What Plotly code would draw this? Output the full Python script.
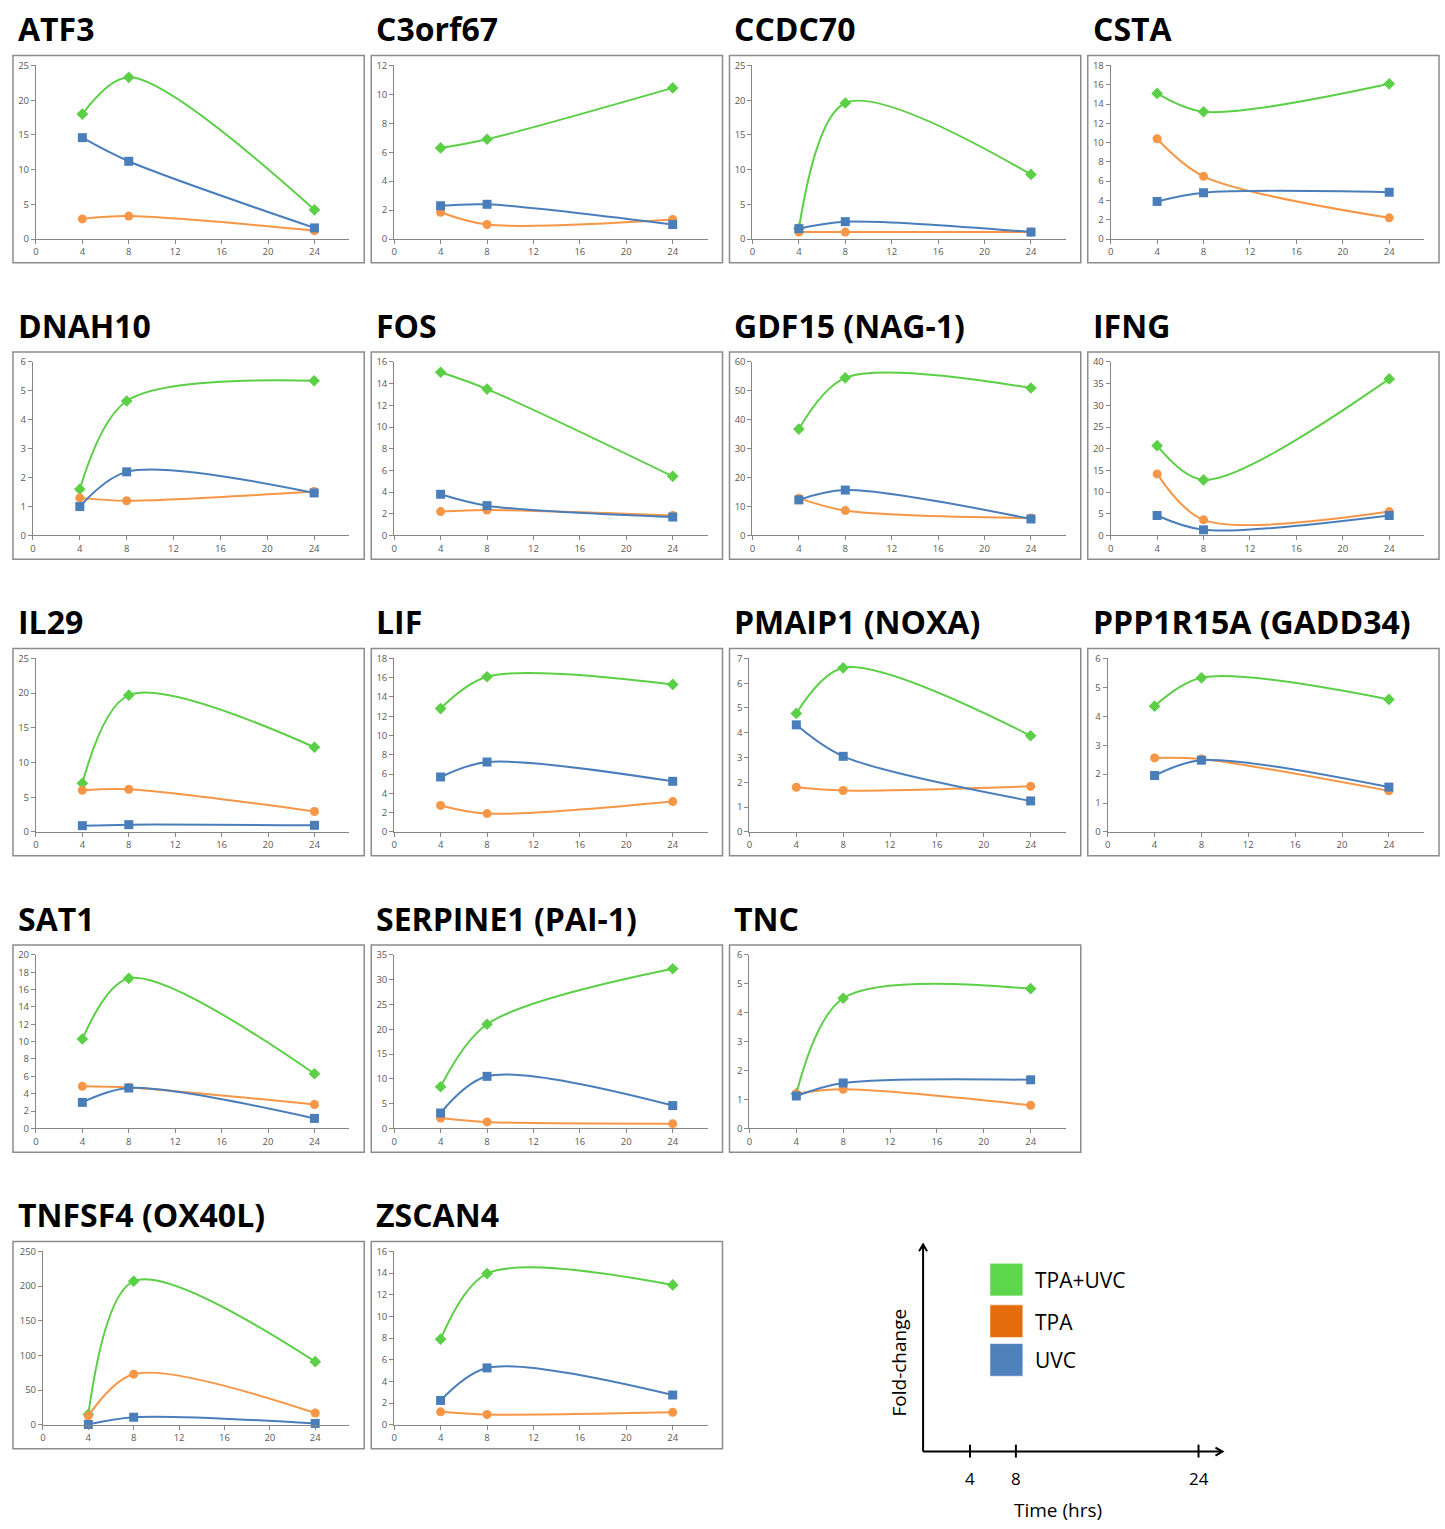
import plotly.graph_objects as go

W, H = 1445, 1529

hours = [4, 8, 24]
x_ticks = [0, 4, 8, 12, 16, 20, 24]

genes = ["ATF3", "C3orf67", "CCDC70", "CSTA",
         "DNAH10", "FOS", "GDF15 (NAG-1)", "IFNG",
         "IL29", "LIF", "PMAIP1 (NOXA)", "PPP1R15A (GADD34)",
         "SAT1", "SERPINE1 (PAI-1)", "TNC",
         "TNFSF4 (OX40L)", "ZSCAN4"]

y_max = [25, 12, 25, 18,
         6, 16, 60, 40,
         25, 18, 7, 6,
         20, 35, 6,
         250, 16]
y_step = [5, 2, 5, 2,
          1, 2, 10, 5,
          5, 2, 1, 1,
          2, 5, 1,
          50, 2]

tpa_uvc = [[18.0, 23.3, 4.2], [6.3, 6.9, 10.45], [1.5, 19.6, 9.3], [15.1, 13.2, 16.1],
           [1.6, 4.65, 5.35], [15.05, 13.5, 5.45], [36.8, 54.5, 51.0], [20.7, 12.8, 36.1],
           [7.0, 19.7, 12.2], [12.8, 16.1, 15.3], [4.78, 6.62, 3.88], [4.35, 5.33, 4.58],
           [10.3, 17.3, 6.3], [8.4, 21.0, 32.2], [1.2, 4.5, 4.83],
           [15.0, 207.0, 91.0], [7.9, 13.95, 12.9]]
tpa = [[2.9, 3.3, 1.2], [1.85, 1.0, 1.35], [1.0, 1.0, 1.0], [10.4, 6.5, 2.2],
       [1.3, 1.2, 1.52], [2.2, 2.35, 1.85], [12.9, 8.6, 6.0], [14.2, 3.6, 5.5],
       [6.0, 6.15, 2.95], [2.75, 1.9, 3.15], [1.8, 1.67, 1.84], [2.56, 2.52, 1.42],
       [4.85, 4.7, 2.75], [2.1, 1.3, 0.95], [1.2, 1.35, 0.8],
       [13.0, 73.0, 17.0], [1.2, 0.95, 1.15]]
uvc = [[14.6, 11.2, 1.6], [2.3, 2.4, 1.0], [1.5, 2.5, 1.0], [3.9, 4.8, 4.85],
       [1.0, 2.2, 1.47], [3.8, 2.75, 1.7], [12.3, 15.7, 5.7], [4.6, 1.3, 4.6],
       [0.9, 1.05, 0.95], [5.7, 7.25, 5.25], [4.32, 3.05, 1.25], [1.95, 2.48, 1.55],
       [3.0, 4.65, 1.15], [3.1, 10.5, 4.6], [1.12, 1.57, 1.68],
       [0.5, 11.0, 2.0], [2.25, 5.25, 2.75]]

legend_labels = ["TPA+UVC", "TPA", "UVC"]
legend_ticks = [4, 8, 24]

GREEN, ORANGE, BLUE = "#5BD046", "#F79646", "#4A7EBB"
LEG_COLORS = ["#5CD64B", "#E46C0A", "#4F81BD"]

col_left = [10, 369, 728, 1087]
row_top = [49, 348, 647, 946, 1245]
BOX_W, BOX_H = 352, 209
positions = [(0, 0), (0, 1), (0, 2), (0, 3),
             (1, 0), (1, 1), (1, 2), (1, 3),
             (2, 0), (2, 1), (2, 2), (2, 3),
             (3, 0), (3, 1), (3, 2),
             (4, 0), (4, 1)]


def px(x):
    return x / W


def py(y):
    return 1 - y / H


fig = go.Figure()
shapes = []
annotations = []
layout = {}
TICKFONT = dict(family="Open Sans", size=9.5, color="#595959")

for i, g in enumerate(genes):
    r, c = positions[i]
    bl, bt = col_left[c], row_top[r]
    digits = len(str(y_max[i]))
    off = {1: 20, 2: 23, 3: 30}[digits]
    x0, x1 = bl + off, bl + 337
    y_top, y_bot = bt + 10, bt + 185
    k = "" if i == 0 else str(i + 1)
    layout["xaxis" + k] = dict(
        domain=[px(x0), px(x1)], anchor="y" + k, range=[0, 27],
        tickvals=x_ticks, ticks="outside", ticklen=4, tickcolor="#868686",
        showline=True, linecolor="#868686", linewidth=1, showgrid=False,
        zeroline=False, tickfont=TICKFONT, fixedrange=True)
    layout["yaxis" + k] = dict(
        domain=[py(y_bot), py(y_top)], anchor="x" + k, range=[0, y_max[i]],
        dtick=y_step[i], tick0=0, ticks="outside", ticklen=4, tickcolor="#868686",
        showline=True, linecolor="#868686", linewidth=1, showgrid=False,
        zeroline=False, tickfont=TICKFONT, fixedrange=True)
    for vals, col, sym, sz in [(tpa_uvc[i], GREEN, "diamond", 9),
                               (tpa[i], ORANGE, "circle", 9),
                               (uvc[i], BLUE, "square", 9)]:
        fig.add_trace(go.Scatter(
            x=hours, y=vals, mode="lines+markers", xaxis="x" + k, yaxis="y" + k,
            line=dict(color=col, width=2, shape="spline", smoothing=0.9),
            marker=dict(symbol=sym, size=sz, color=col),
            showlegend=False, cliponaxis=False))
    shapes.append(dict(type="rect", xref="paper", yref="paper",
                       x0=px(bl), x1=px(bl + BOX_W), y0=py(bt + BOX_H), y1=py(bt),
                       line=dict(color="#8C8C8C", width=1.5), fillcolor="rgba(0,0,0,0)"))
    annotations.append(dict(text="<b>" + g + "</b>", xref="paper", yref="paper",
                            x=px(bl + 3), y=py(bt - 27), xanchor="left", yanchor="middle",
                            showarrow=False,
                            font=dict(family="Open Sans", size=32, color="black")))

# Legend / schematic axes
ax_x, ax_y = 922, 1457
ax_top, ax_right = 1248, 1222
tick_px = {4: 969, 8: 1015, 24: 1198}
line_style = dict(color="black", width=2)
shapes.append(dict(type="line", xref="paper", yref="paper", x0=px(ax_x), x1=px(ax_x),
                   y0=py(ax_y), y1=py(ax_top), line=line_style))
shapes.append(dict(type="line", xref="paper", yref="paper", x0=px(ax_x), x1=px(ax_right),
                   y0=py(ax_y), y1=py(ax_y), line=line_style))
shapes.append(dict(type="path", xref="paper", yref="paper",
                   path=f"M {px(ax_x-4)},{py(ax_top+7)} L {px(ax_x)},{py(ax_top)} L {px(ax_x+4)},{py(ax_top+7)}",
                   line=line_style))
shapes.append(dict(type="path", xref="paper", yref="paper",
                   path=f"M {px(ax_right-7)},{py(ax_y-4)} L {px(ax_right)},{py(ax_y)} L {px(ax_right-7)},{py(ax_y+4)}",
                   line=line_style))
for t in legend_ticks:
    xx = tick_px[t]
    shapes.append(dict(type="line", xref="paper", yref="paper", x0=px(xx), x1=px(xx),
                       y0=py(ax_y - 7), y1=py(ax_y + 6), line=line_style))
    annotations.append(dict(text=str(t), xref="paper", yref="paper", x=px(xx), y=py(1484),
                            xanchor="center", yanchor="middle", showarrow=False,
                            font=dict(family="Open Sans", size=17, color="black")))
annotations.append(dict(text="Time (hrs)", xref="paper", yref="paper", x=px(1057), y=py(1516),
                        xanchor="center", yanchor="middle", showarrow=False,
                        font=dict(family="Open Sans", size=19, color="black")))
annotations.append(dict(text="Fold-change", xref="paper", yref="paper", x=px(898), y=py(1367),
                        xanchor="center", yanchor="middle", showarrow=False, textangle=-90,
                        font=dict(family="Open Sans", size=19, color="black")))
leg_tops = [1267, 1309, 1348]
for lbl, col, top in zip(legend_labels, LEG_COLORS, leg_tops):
    shapes.append(dict(type="rect", xref="paper", yref="paper", x0=px(989), x1=px(1022),
                       y0=py(top + 33), y1=py(top), fillcolor=col,
                       line=dict(color="rgba(255,255,255,0.6)", width=1)))
    annotations.append(dict(text=lbl, xref="paper", yref="paper", x=px(1032), y=py(top + 17),
                            xanchor="left", yanchor="middle", showarrow=False,
                            font=dict(family="Open Sans", size=21, color="black")))

fig.update_layout(width=W, height=H, margin=dict(l=0, r=0, t=0, b=0),
                  paper_bgcolor="white", plot_bgcolor="white",
                  shapes=shapes, annotations=annotations, showlegend=False, **layout)

fig.write_html("out.html",
               post_script="document.body.style.margin='0';document.body.style.overflow='hidden';")
